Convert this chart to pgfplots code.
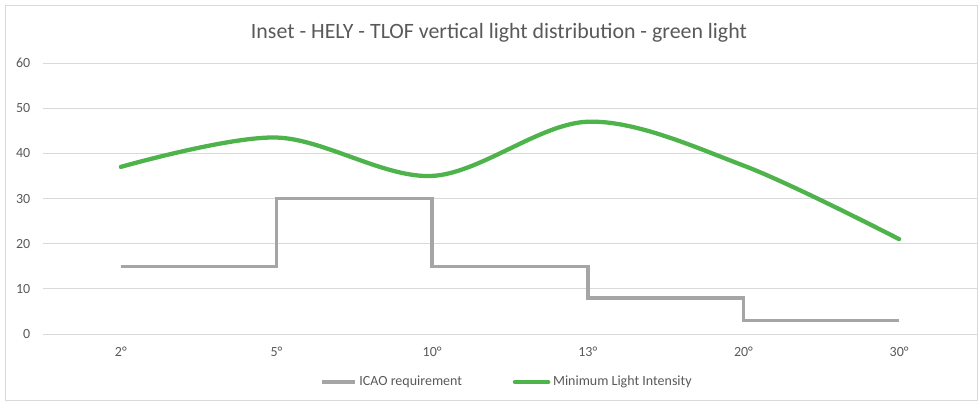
\documentclass[border=0pt]{standalone}
\usepackage{pgfplots}
\pgfplotsset{compat=1.18}
\usepackage{fontspec}
\setmainfont{Carlito}
\definecolor{txt}{HTML}{595959}
\definecolor{gridc}{HTML}{D9D9D9}
\definecolor{icao}{HTML}{A5A5A5}
\definecolor{grn}{HTML}{4DB34A}
\begin{document}
\begin{tikzpicture}[x=0.75pt,y=0.75pt]
\useasboundingbox (-43,-71) rectangle (936,334);
\draw[gridc, line width=0.75pt] (-38,-66) rectangle (934,329);
\node[txt, font=\fontsize{16.4}{18}\selectfont] at (456,301) {Inset - HELY - TLOF vertical light distribution - green light};
\begin{axis}[
  at={(0,0)}, anchor=south west,
  scale only axis, width=700.5pt, height=203.25pt,
  xmin=-0.5, xmax=5.5, ymin=0, ymax=60,
  xtick={0,1,2,3,4,5},
  xticklabels={2°,5°,10°,13°,20°,30°},
  ytick={0,10,...,60},
  ymajorgrids, grid style={gridc, line width=0.75pt},
  axis line style={draw=none},
  tick style={draw=none},
  ticklabel style={txt, font=\fontsize{10.5}{12}\selectfont},
  /pgf/number format/assume math mode=true,
  yticklabel style={xshift=-6pt},
  xticklabel style={yshift=-6pt},
  legend columns=2,
  legend style={draw=none, fill=none, at={(0.497,-0.177)}, anchor=center,
    font=\fontsize{10.5}{12}\selectfont, text=txt,
    /tikz/every even column/.append style={column sep=36pt}},
  legend image code/.code={\draw[#1] (0pt,0pt) -- (25pt,0pt);},
]
\addplot[icao, line width=2.6pt, const plot, line join=miter] coordinates {
 (0,15) (1,30) (2,15) (3,8) (4,3) (5,3)};
\addlegendentry{ICAO requirement}
\addplot[grn, line width=3.2pt, smooth, tension=0.55, line cap=round] coordinates {
 (0,37) (1,43.5) (2,35) (3,47) (4,37.3) (5,21)};
\addlegendentry{Minimum Light Intensity}
\end{axis}
\end{tikzpicture}
\end{document}
